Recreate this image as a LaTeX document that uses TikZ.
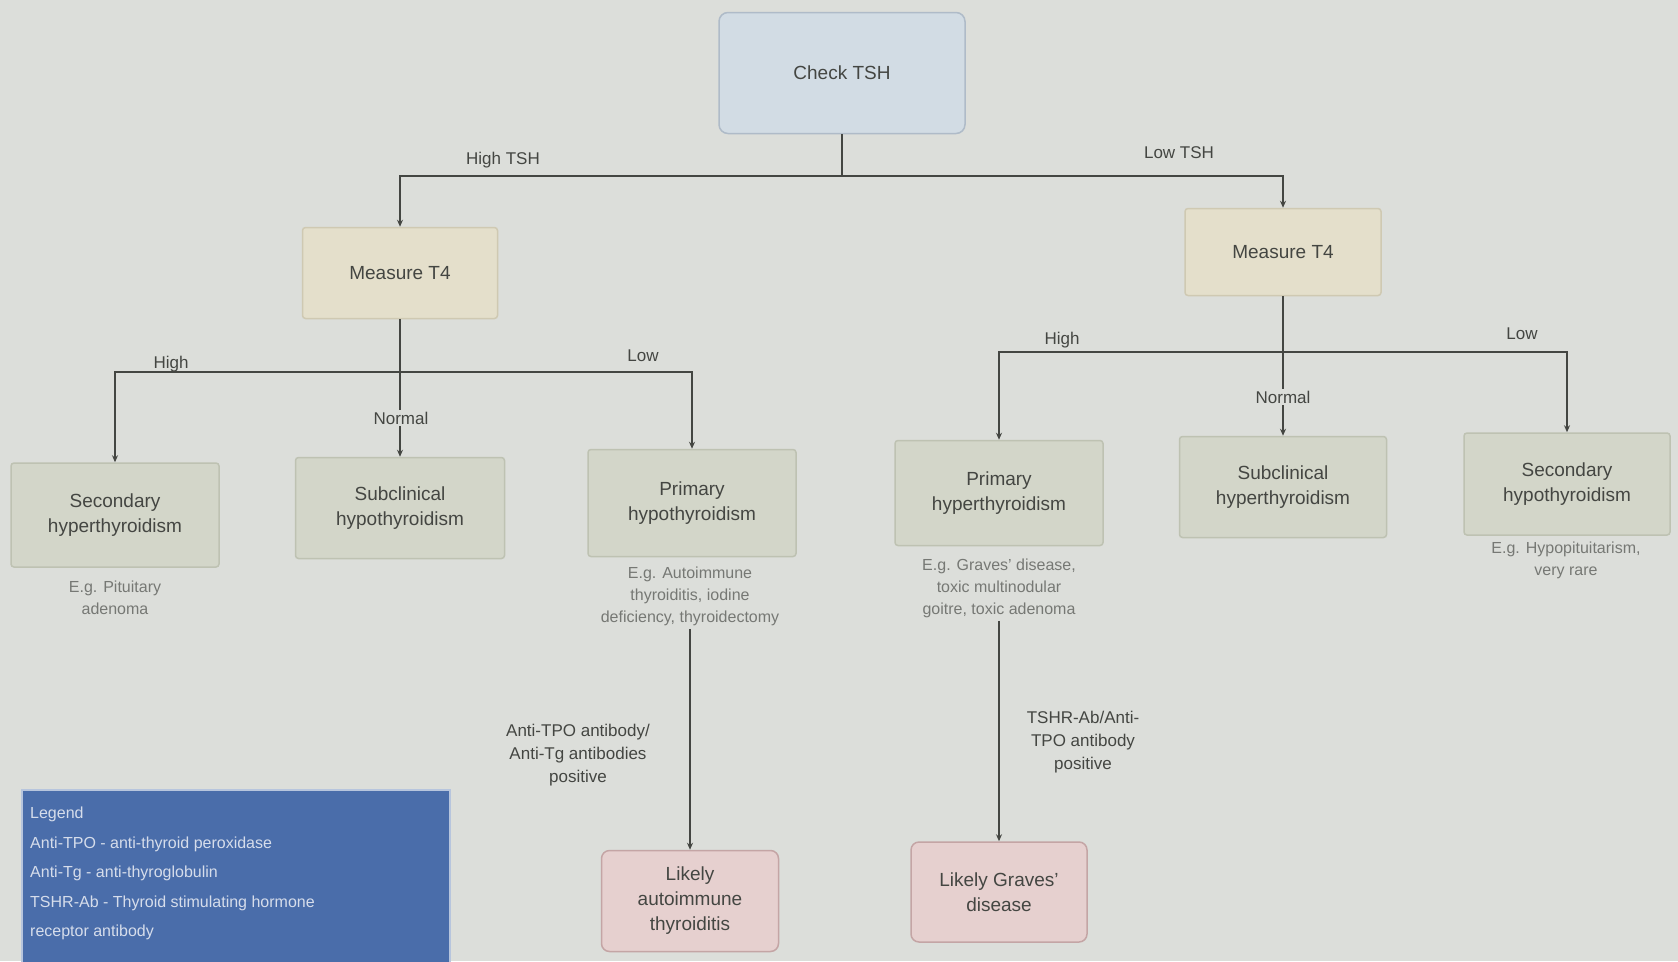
\documentclass[tikz,border=0pt]{standalone}
\usepackage{fontspec}
\setmainfont{Liberation Sans}
\usetikzlibrary{arrows.meta}
\definecolor{bg}{HTML}{DCDEDA}
\definecolor{ink}{HTML}{444642}
\definecolor{soft}{HTML}{767874}
\definecolor{blueF}{HTML}{D2DCE4}
\definecolor{blueD}{HTML}{AFBBC8}
\definecolor{beigeF}{HTML}{E4DFCB}
\definecolor{beigeD}{HTML}{CFC9B2}
\definecolor{greenF}{HTML}{D3D6C9}
\definecolor{greenD}{HTML}{BEC2B2}
\definecolor{pinkF}{HTML}{E6D0CF}
\definecolor{pinkD}{HTML}{C4A5A5}
\definecolor{legF}{HTML}{4A6DAA}
\definecolor{legT}{HTML}{D6DDEB}
\tikzset{
  box/.style={draw, line width=1.5pt, rounded corners=3pt, align=center, text=ink,
    font=\fontsize{19}{25}\selectfont},
  topbox/.style={box, fill=blueF, draw=blueD, rounded corners=9pt},
  t4box/.style={box, fill=beigeF, draw=beigeD},
  dxbox/.style={box, fill=greenF, draw=greenD},
  endbox/.style={box, fill=pinkF, draw=pinkD, rounded corners=8pt},
  lbl/.style={text=ink, align=center, font=\fontsize{17}{23}\selectfont},
  note/.style={text=soft, align=center, font=\fontsize{16}{22}\selectfont},
  conn/.style={draw=ink, line width=1.6pt},
  arr/.style={conn, -{Stealth[length=7pt,width=6pt]}}
}
\begin{document}
\begin{tikzpicture}[x=1pt,y=-1pt]
\fill[bg] (0,0) rectangle (1678,961);
\useasboundingbox (0,0) rectangle (1678,961);

% nodes
\node[topbox, minimum width=246pt, minimum height=121pt] (ck) at (842,73) {Check TSH};
\node[t4box, minimum width=195pt, minimum height=91pt] (mtL) at (400,273) {Measure T4};
\node[t4box, minimum width=196pt, minimum height=87pt] (mtR) at (1283,252) {Measure T4};

\node[dxbox, minimum width=208pt, minimum height=104pt] (secL) at (115,515) {Secondary\\hyperthyroidism};
\node[dxbox, minimum width=209pt, minimum height=101pt] (subL) at (400,508) {Subclinical\\hypothyroidism};
\node[dxbox, minimum width=208pt, minimum height=107pt] (priL) at (692,503) {Primary\\hypothyroidism};

\node[dxbox, minimum width=208pt, minimum height=105pt] (priR) at (999,493) {Primary\\hyperthyroidism};
\node[dxbox, minimum width=207pt, minimum height=101pt] (subR) at (1283,487) {Subclinical\\hyperthyroidism};
\node[dxbox, minimum width=206pt, minimum height=102pt] (secR) at (1567,484) {Secondary\\hypothyroidism};

\node[endbox, minimum width=177pt, minimum height=101pt] (aut) at (690,901) {Likely\\autoimmune\\thyroiditis};
\node[endbox, minimum width=176pt, minimum height=100pt] (grv) at (999,892) {Likely Graves'\\disease};

% notes
\node[note] (ex1) at (115,598) {E.g. Pituitary\\adenoma};
\node[note] (ex2) at (690,596) {E.g. Autoimmune\\thyroiditis, iodine\\deficiency, thyroidectomy};
\node[note] (ex3) at (999,588) {E.g. Graves' disease,\\toxic multinodular\\goitre, toxic adenoma};
\node[note] (ex4) at (1566,560) {E.g. Hypopituitarism,\\very rare};

% junctions
\coordinate (j0) at (842,176);
\coordinate (jL) at (400,372);
\coordinate (jR) at (1283,352);

% connectors
\draw[conn] (ck.south) -- (j0);
\draw[arr] (j0) -| (mtL.north);
\draw[arr] (j0) -| (mtR.north);

\draw[conn] (mtL.south) -- (jL);
\draw[arr] (jL) -| (secL.north);
\draw[arr] (jL) -- (subL.north);
\draw[arr] (jL) -| (priL.north);

\draw[conn] (mtR.south) -- (jR);
\draw[arr] (jR) -| (priR.north);
\draw[arr] (jR) -- (subR.north);
\draw[arr] (jR) -| (secR.north);

\draw[arr] (ex2.south) -- (aut.north);
\draw[arr] (ex3.south) -- (grv.north);

% edge labels
\node[lbl] (lHT) at (503,160) {High TSH};
\node[lbl] (lLT) at (1179,153) {Low TSH};
\node[lbl] (lH1) at (171,364) {High};
\node[lbl] (lL1) at (643,356) {Low};
\node[lbl, fill=bg, inner sep=2pt] (lN1) at (401,418) {Normal};
\node[lbl] (lH2) at (1062,340) {High};
\node[lbl] (lL2) at (1522,334) {Low};
\node[lbl, fill=bg, inner sep=2pt] (lN2) at (1283,397) {Normal};
\node[lbl] (lA1) at (578,755) {Anti-TPO antibody/\\Anti-Tg antibodies\\positive};
\node[lbl] (lA2) at (1083,742) {TSHR-Ab/Anti-\\TPO antibody\\positive};

% legend
\node[draw=white!60!legF, line width=1.5pt, fill=legF, anchor=north west,
  minimum width=428pt, minimum height=180pt] (leg) at (21,789) {};
\node[anchor=north west, align=left, text=legT, inner sep=0pt,
  font=\fontsize{16}{29.5}\selectfont] (legt) at (30,807)
  {Legend\\Anti-TPO - anti-thyroid peroxidase\\Anti-Tg - anti-thyroglobulin\\TSHR-Ab - Thyroid stimulating hormone\\receptor antibody};
\end{tikzpicture}
\end{document}
